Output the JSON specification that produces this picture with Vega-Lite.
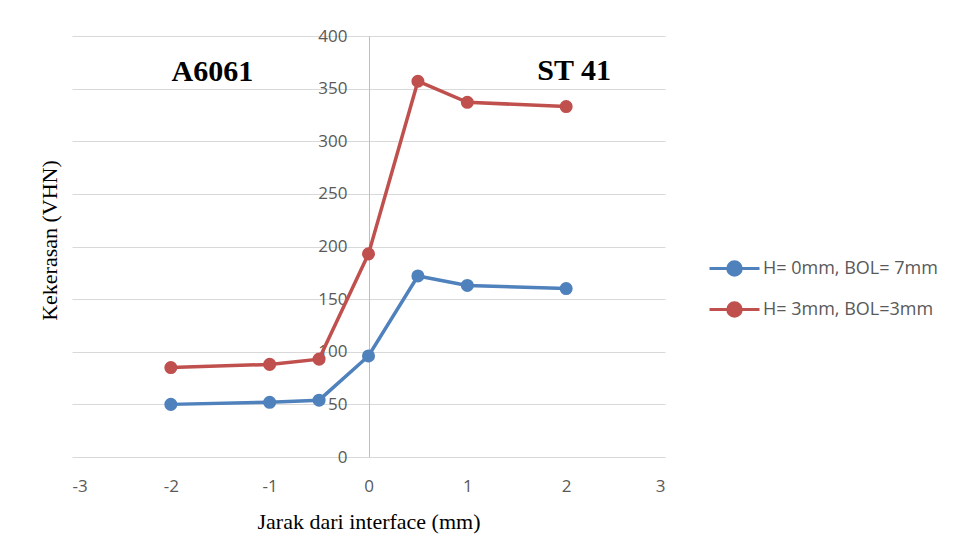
{
  "$schema": "https://vega.github.io/schema/vega-lite/v6.json",
  "width": 593,
  "height": 421,
  "autosize": {"type": "none"},
  "padding": {"left": 72, "top": 36, "right": 298, "bottom": 103},
  "background": "white",
  "config": {
    "view": {"stroke": null},
    "font": "Open Sans"
  },
  "datasets": {
    "hardness": [
      {"jarak": -2, "vhn": 50, "seri": "H= 0mm, BOL= 7mm"},
      {"jarak": -1, "vhn": 52, "seri": "H= 0mm, BOL= 7mm"},
      {"jarak": -0.5, "vhn": 54, "seri": "H= 0mm, BOL= 7mm"},
      {"jarak": 0, "vhn": 96, "seri": "H= 0mm, BOL= 7mm"},
      {"jarak": 0.5, "vhn": 172, "seri": "H= 0mm, BOL= 7mm"},
      {"jarak": 1, "vhn": 163, "seri": "H= 0mm, BOL= 7mm"},
      {"jarak": 2, "vhn": 160, "seri": "H= 0mm, BOL= 7mm"},
      {"jarak": -2, "vhn": 85, "seri": "H= 3mm, BOL=3mm"},
      {"jarak": -1, "vhn": 88, "seri": "H= 3mm, BOL=3mm"},
      {"jarak": -0.5, "vhn": 93, "seri": "H= 3mm, BOL=3mm"},
      {"jarak": 0, "vhn": 193, "seri": "H= 3mm, BOL=3mm"},
      {"jarak": 0.5, "vhn": 357, "seri": "H= 3mm, BOL=3mm"},
      {"jarak": 1, "vhn": 337, "seri": "H= 3mm, BOL=3mm"},
      {"jarak": 2, "vhn": 333, "seri": "H= 3mm, BOL=3mm"}
    ],
    "notes": [
      {"jarak": -1.58, "vhn": 365.5, "label": "A6061"},
      {"jarak": 2.08, "vhn": 367, "label": "ST 41"}
    ]
  },
  "layer": [
    {
      "data": {"name": "hardness"},
      "mark": {"type": "line", "strokeWidth": 3.5},
      "encoding": {
        "x": {
          "field": "jarak", "type": "quantitative",
          "scale": {"domain": [-3, 3], "nice": false, "zero": false},
          "axis": {
            "values": [-3, -2, -1, 0, 1, 2, 3],
            "labelExpr": "'' + datum.value",
            "grid": false, "domain": false, "ticks": false, "tickSize": 0,
            "labelPadding": 21, "labelFontSize": 17, "labelColor": "#595959", "labelFont": "Open Sans",
            "title": "Jarak dari interface (mm)",
            "titleFont": "Liberation Serif", "titleFontSize": 22, "titleFontWeight": "normal", "titleColor": "#000000",
            "titleY": 64, "titleBaseline": "middle"
          }
        },
        "y": {
          "field": "vhn", "type": "quantitative",
          "scale": {"domain": [0, 400], "nice": false},
          "axis": {
            "values": [0, 50, 100, 150, 200, 250, 300, 350, 400],
            "offset": -297,
            "grid": true, "gridColor": "#d9d9d9", "gridWidth": 1,
            "domain": true, "domainColor": "#bfbfbf", "domainWidth": 1,
            "ticks": false, "tickSize": 0,
            "labelPadding": 22, "labelFontSize": 17, "labelColor": "#595959", "labelFont": "Open Sans",
            "title": "Kekerasan (VHN)",
            "titleFont": "Liberation Serif", "titleFontSize": 22, "titleFontWeight": "normal", "titleColor": "#000000",
            "titleX": -320, "titleY": 204, "titleAngle": -90, "titleAlign": "center", "titleBaseline": "middle"
          }
        },
        "color": {
          "field": "seri", "type": "nominal",
          "scale": {"domain": ["H= 0mm, BOL= 7mm", "H= 3mm, BOL=3mm"], "range": ["#4F81BD", "#C0504D"]},
          "legend": {
            "orient": "none", "legendX": 636, "legendY": 206,
            "title": null,
            "symbolType": "M-1,0L1,0M-0.27,0A0.27,0.27,0,1,1,0.27,0A0.27,0.27,0,1,1,-0.27,0Z",
            "symbolSize": 2500, "symbolStrokeWidth": 3,
            "labelFont": "Open Sans", "labelFontSize": 18, "labelColor": "#595959", "labelOffset": 2,
            "labelLimit": 400,
            "rowPadding": 1,
            "encode": {
              "symbols": {
                "update": {
                  "fill": {"scale": "color", "field": "value"},
                  "stroke": {"scale": "color", "field": "value"},
                  "fillOpacity": {"value": 1},
                  "opacity": {"value": 1}
                }
              }
            }
          }
        }
      }
    },
    {
      "data": {"name": "hardness"},
      "mark": {"type": "point", "filled": true, "size": 170, "opacity": 1},
      "encoding": {
        "x": {"field": "jarak", "type": "quantitative"},
        "y": {"field": "vhn", "type": "quantitative"},
        "color": {"field": "seri", "type": "nominal"}
      }
    },
    {
      "data": {"name": "notes"},
      "mark": {"type": "text", "font": "Liberation Serif", "fontWeight": "bold", "fontSize": 30, "color": "#000000", "baseline": "middle", "align": "center"},
      "encoding": {
        "x": {"field": "jarak", "type": "quantitative"},
        "y": {"field": "vhn", "type": "quantitative"},
        "text": {"field": "label"}
      }
    }
  ]
}
